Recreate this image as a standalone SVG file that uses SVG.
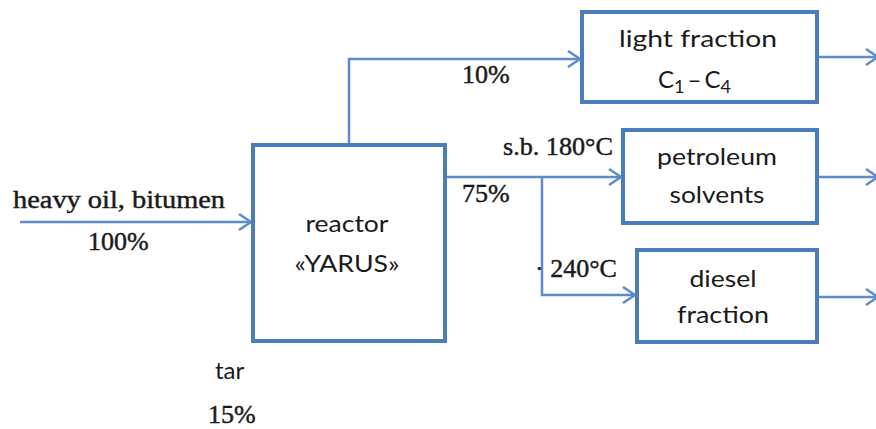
<svg xmlns="http://www.w3.org/2000/svg" width="876" height="429" viewBox="0 0 876 429">
<defs>
<style>
.box{fill:#fff;stroke:#4a7ebb;stroke-width:4}
.ln{fill:none;stroke:#5b8ccc;stroke-width:2.5}
.sans{font-family:Lato,"Open Sans",sans-serif;font-size:24px;fill:#1a1a1a}
.serif{font-family:"Liberation Serif","Times New Roman",serif;font-size:26px;fill:#1a1a1a;stroke:#1a1a1a;stroke-width:0.45}
</style>
<marker id="arr" markerUnits="userSpaceOnUse" markerWidth="16" markerHeight="18" refX="13" refY="9" orient="auto">
<path d="M1,1 L13,9 L1,17" fill="none" stroke="#5b8ccc" stroke-width="2.5"/>
</marker>
</defs>
<g id="connectors">
<path class="ln" d="M20,222 H251" marker-end="url(#arr)"/>
<path class="ln" d="M349,145 V59 H580" marker-end="url(#arr)"/>
<path class="ln" d="M445,177 H621" marker-end="url(#arr)"/>
<path class="ln" d="M542,177 V295 H635" marker-end="url(#arr)"/>
<path class="ln" d="M817,57 H878" marker-end="url(#arr)"/>
<path class="ln" d="M817,177 H878" marker-end="url(#arr)"/>
<path class="ln" d="M817,297 H878" marker-end="url(#arr)"/>
</g>
<g id="labels">
<text class="serif" x="13" y="208" textLength="212" lengthAdjust="spacingAndGlyphs">heavy oil, bitumen</text>
<text class="serif" x="88" y="250">100%</text>
<text class="serif" x="462" y="83">10%</text>
<text class="serif" x="503" y="155" textLength="110" lengthAdjust="spacingAndGlyphs">s.b. 180°C</text>
<text class="serif" x="462" y="202">75%</text>
<text class="serif" x="535" y="277">· 240°C</text>
<text class="sans" x="215" y="379">tar</text>
<text class="serif" x="208" y="423">15%</text>
</g>
<g id="reactor">
<rect class="box" x="253" y="145" width="192" height="196"/>
<text class="sans" x="347" y="232" text-anchor="middle" textLength="83" lengthAdjust="spacingAndGlyphs">reactor</text>
<text class="sans" x="347" y="272" text-anchor="middle" textLength="105" lengthAdjust="spacingAndGlyphs">«YARUS»</text>
</g>
<g id="light-fraction">
<rect class="box" x="582" y="12" width="235" height="90"/>
<text class="sans" x="698" y="47" text-anchor="middle" textLength="158" lengthAdjust="spacingAndGlyphs">light fraction</text>
<text class="sans" x="658" y="88">C<tspan font-size="18" dy="5">1</tspan><tspan dy="-5" dx="3">–</tspan><tspan dx="3">C</tspan><tspan font-size="18" dy="5">4</tspan></text>
</g>
<g id="petroleum-solvents">
<rect class="box" x="623" y="130" width="194" height="93"/>
<text class="sans" x="717" y="165" text-anchor="middle" textLength="120" lengthAdjust="spacingAndGlyphs">petroleum</text>
<text class="sans" x="717" y="203" text-anchor="middle" textLength="95" lengthAdjust="spacingAndGlyphs">solvents</text>
</g>
<g id="diesel-fraction">
<rect class="box" x="637" y="250" width="180" height="92"/>
<text class="sans" x="723" y="287" text-anchor="middle" textLength="67" lengthAdjust="spacingAndGlyphs">diesel</text>
<text class="sans" x="723" y="323" text-anchor="middle" textLength="92" lengthAdjust="spacingAndGlyphs">fraction</text>
</g>
</svg>
